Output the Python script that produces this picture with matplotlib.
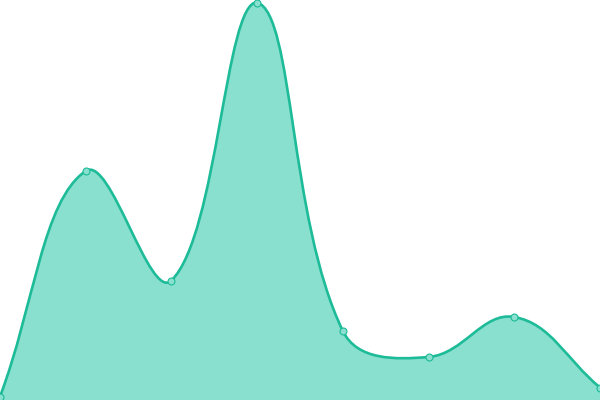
import numpy as np
import matplotlib
matplotlib.use("Agg")
import matplotlib.pyplot as plt
from matplotlib.path import Path
from matplotlib.patches import PathPatch

categories = ["A", "B", "C", "D", "E", "F", "G", "H"]
values = [3.5, 229, 119.5, 397.5, 69, 43, 83, 12.5]

LINE = "#1dbb98"
FILL = "#89e0cf"
TENSION = 0.4

fig = plt.figure(figsize=(6, 4), dpi=100)
ax = fig.add_axes([0, 0, 1, 1])
ax.set_xlim(0, len(categories) - 1)
ax.set_ylim(0, 400)
ax.axis("off")

xs = np.arange(len(categories), dtype=float)
pts = ax.transData.transform(np.column_stack([xs, values]))
bbox = ax.bbox


def control_points(p, t):
    n = len(p)
    cps = []
    for i in range(n):
        prev = p[max(i - 1, 0)]
        cur = p[i]
        nxt = p[min(i + 1, n - 1)]
        d01 = np.hypot(*(cur - prev))
        d12 = np.hypot(*(nxt - cur))
        tot = d01 + d12
        s01 = d01 / tot if tot else 0
        s12 = d12 / tot if tot else 0
        c_prev = cur - t * s01 * (nxt - prev)
        c_next = cur + t * s12 * (nxt - prev)
        for c in (c_prev, c_next):
            c[0] = min(max(c[0], bbox.x0), bbox.x1)
            c[1] = min(max(c[1], bbox.y0), bbox.y1)
        cps.append((c_prev, c_next))
    return cps


cps = control_points(pts, TENSION)
verts = [tuple(pts[0])]
codes = [Path.MOVETO]
for i in range(1, len(pts)):
    verts += [tuple(cps[i - 1][1]), tuple(cps[i][0]), tuple(pts[i])]
    codes += [Path.CURVE4] * 3

inv = ax.transData.inverted()
dverts = inv.transform(np.array(verts))

area_verts = list(map(tuple, dverts)) + [(xs[-1], 0), (xs[0], 0), tuple(dverts[0])]
area_codes = codes + [Path.LINETO, Path.LINETO, Path.CLOSEPOLY]
ax.add_patch(PathPatch(Path(area_verts, area_codes), facecolor=FILL, edgecolor="none", zorder=1))

ax.add_patch(PathPatch(Path(dverts, codes), facecolor="none", edgecolor=LINE,
                       linewidth=1.9, zorder=2, clip_on=False, capstyle="round", joinstyle="round"))

ax.plot(xs, values, linestyle="none", marker="o", markersize=5,
        markerfacecolor=FILL, markeredgecolor=LINE, markeredgewidth=0.8,
        zorder=3, clip_on=False)

fig.savefig("out.png", dpi=100)
